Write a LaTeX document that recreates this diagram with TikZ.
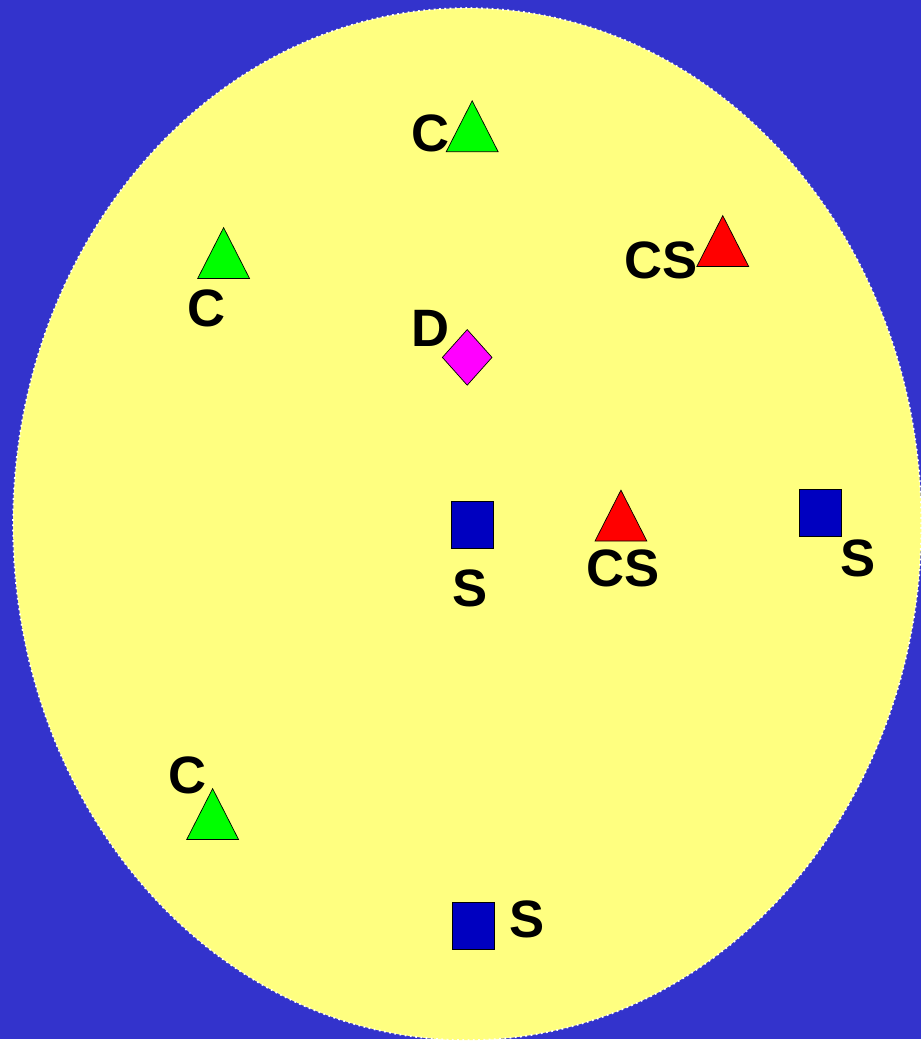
\documentclass[tikz,border=0pt]{standalone}
\usepackage{fontspec}
\setmainfont{Liberation Sans}
\usetikzlibrary{shapes.geometric}
\definecolor{backblue}{RGB}{51,51,204}
\definecolor{fieldyellow}{RGB}{255,255,128}
\definecolor{sqblue}{RGB}{0,0,192}
\definecolor{dirpink}{RGB}{255,0,255}
\definecolor{cgreen}{RGB}{0,255,0}
\definecolor{csred}{RGB}{255,0,0}

\begin{document}
\begin{tikzpicture}[x=0.02cm, y=-0.02cm, thin]
  \tikzstyle{lbl} = [font=\fontsize{30}{36}\selectfont\bfseries, inner sep=0pt]
  \tikzstyle{tribox} = [isosceles triangle, shape border rotate=90, isosceles triangle stretches, minimum width=1.04cm, minimum height=1.02cm, inner sep=0pt, outer sep=0pt, draw, anchor=apex]
  \tikzstyle{sqbox} = [rectangle, draw, fill=sqblue, minimum width=0.84cm, minimum height=0.94cm, inner sep=0pt]
  \tikzstyle{diabox} = [diamond, draw, fill=dirpink, minimum width=1cm, minimum height=1.12cm, inner sep=0pt]

  % background and field
  \fill[backblue] (0,0) rectangle (923,1041);
  \draw[white, dotted, line width=1pt, fill=fieldyellow] (468,525) ellipse [x radius=9.1cm, y radius=10.34cm];

  % clients
  \node[tribox, fill=cgreen] (c1) at (473,101) {};
  \node[tribox, fill=cgreen] (c2) at (224,228) {};
  \node[tribox, fill=cgreen] (c3) at (213,790) {};
  \node[lbl] (lc1) at (431,134) {C};
  \node[lbl] (lc2) at (207,309) {C};
  \node[lbl] (lc3) at (188,777) {C};

  % client-servers
  \node[tribox, fill=csred] (cs1) at (724,216) {};
  \node[tribox, fill=csred] (cs2) at (622,491) {};
  \node[lbl] (lcs1) at (662,261) {CS};
  \node[lbl] (lcs2) at (624,569) {CS};

  % directory
  \node[diabox] (d) at (468,358) {};
  \node[lbl] (ld) at (431,329) {D};

  % servers
  \node[sqbox] (s1) at (473.5,525.5) {};
  \node[sqbox] (s2) at (821.5,513.5) {};
  \node[sqbox] (s3) at (474,927.5) {};
  \node[lbl] (ls1) at (471,589) {S};
  \node[lbl] (ls2) at (860,559) {S};
  \node[lbl] (ls3) at (528,921) {S};
\end{tikzpicture}
\end{document}
